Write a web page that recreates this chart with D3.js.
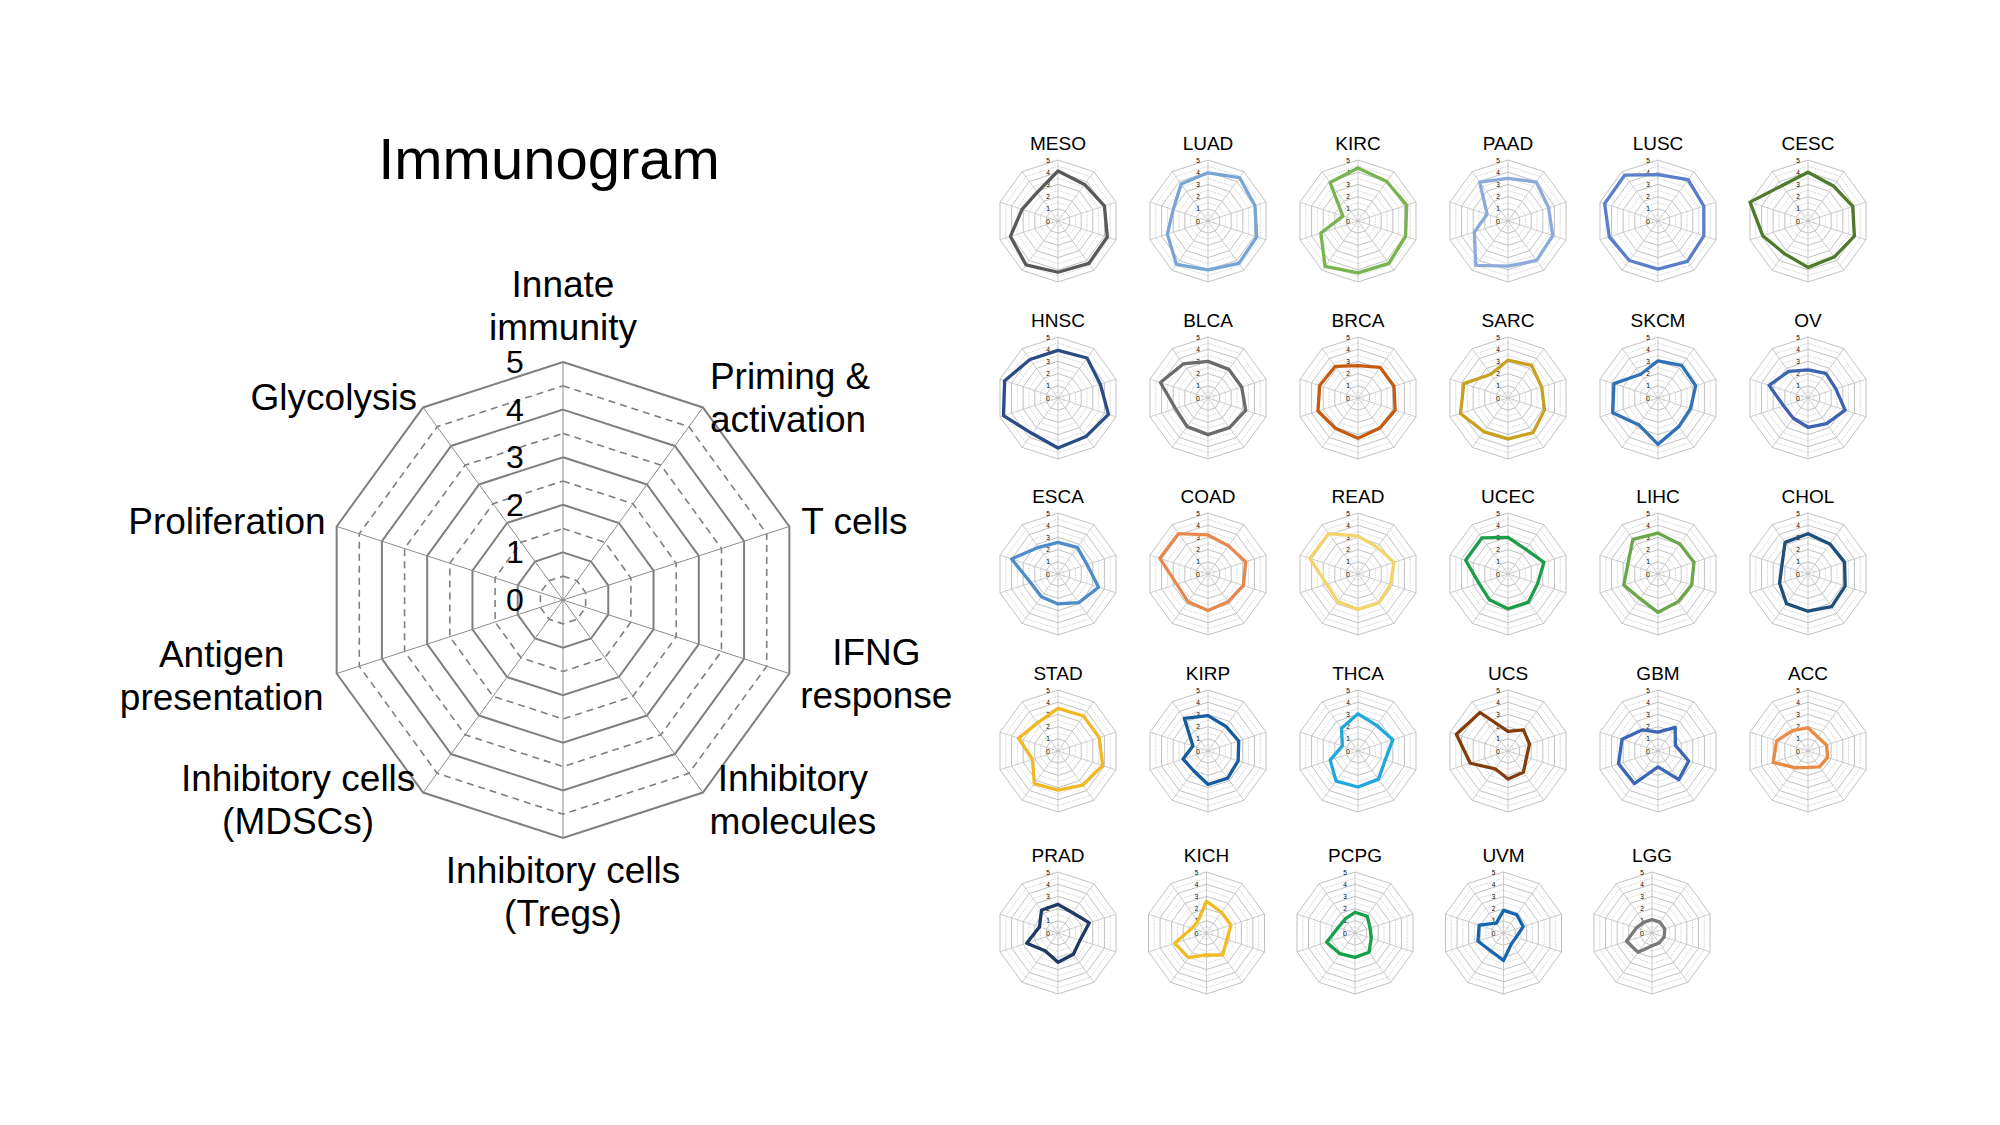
<!DOCTYPE html>
<html>
<head>
<meta charset="utf-8">
<script src="https://cdn.jsdelivr.net/npm/d3@7"></script>
<style>
  body { margin: 0; background: #ffffff; }
  text { font-family: "Liberation Sans", Arial, sans-serif; fill: #000; }
</style>
</head>
<body>
<script>
// axes of the immunogram, clockwise from the top
const axes = ["Innate immunity", "Priming & activation", "T cells", "IFNG response",
  "Inhibitory molecules", "Inhibitory cells (Tregs)", "Inhibitory cells (MDSCs)",
  "Antigen presentation", "Proliferation", "Glycolysis"];
const axisLines = [["Innate", "immunity"], ["Priming &", "activation"], ["T cells"],
  ["IFNG", "response"], ["Inhibitory", "molecules"], ["Inhibitory cells", "(Tregs)"],
  ["Inhibitory cells", "(MDSCs)"], ["Antigen", "presentation"], ["Proliferation"], ["Glycolysis"]];
const ticks = [0, 1, 2, 3, 4, 5];

const cancers = ["MESO", "LUAD", "KIRC", "PAAD", "LUSC", "CESC",
  "HNSC", "BLCA", "BRCA", "SARC", "SKCM", "OV",
  "ESCA", "COAD", "READ", "UCEC", "LIHC", "CHOL",
  "STAD", "KIRP", "THCA", "UCS", "GBM", "ACC",
  "PRAD", "KICH", "PCPG", "UVM", "LGG"];

const MESO = [4.1, 3.7, 4.0, 4.25, 4.3, 4.2, 4.45, 4.1, 3.1, 2.9];
const LUAD = [3.95, 4.4, 4.05, 4.2, 4.3, 4.0, 4.4, 3.5, 3.0, 3.75];
const KIRC = [4.35, 4.0, 4.2, 4.1, 4.3, 4.25, 4.6, 3.2, 1.3, 3.9];
const PAAD = [3.5, 3.95, 3.5, 3.85, 4.0, 3.7, 4.5, 2.9, 1.8, 3.95];
const LUSC = [3.8, 4.2, 3.95, 3.95, 4.1, 3.95, 4.0, 4.2, 4.6, 4.65];
const CESC = [4.0, 3.55, 3.85, 4.0, 3.65, 3.8, 3.3, 3.9, 5.0, 3.6];
const HNSC = [3.9, 4.05, 3.65, 4.35, 3.9, 4.1, 3.6, 4.7, 4.6, 3.9];
const BLCA = [3.0, 2.9, 2.9, 3.25, 3.0, 3.0, 2.9, 2.8, 4.1, 3.45];
const BRCA = [2.65, 3.1, 3.1, 3.2, 3.05, 3.3, 3.1, 3.45, 3.3, 3.2];
const SARC = [3.1, 3.3, 2.9, 3.15, 3.5, 3.35, 3.4, 4.1, 3.8, 2.4];
const SKCM = [3.05, 3.3, 3.25, 2.8, 2.9, 3.8, 2.7, 3.9, 3.8, 2.4];
const OV = [2.3, 2.5, 2.4, 3.2, 2.6, 2.4, 2.05, 2.1, 3.35, 2.7];
const ESCA = [2.6, 2.7, 2.5, 3.5, 2.9, 2.45, 2.3, 2.35, 4.0, 2.7];
const COAD = [3.2, 2.85, 3.25, 3.05, 2.8, 3.0, 2.8, 2.7, 4.15, 4.1];
const READ = [3.1, 2.7, 3.1, 2.8, 2.9, 2.9, 2.8, 2.7, 4.15, 4.1];
const UCEC = [3.0, 2.5, 3.1, 2.55, 2.85, 2.85, 2.6, 2.5, 3.65, 3.65];
const LIHC = [3.35, 3.05, 3.1, 2.9, 2.8, 3.15, 2.5, 2.95, 2.6, 3.5];
const CHOL = [3.3, 3.05, 3.15, 3.2, 3.3, 3.05, 3.0, 2.45, 2.25, 3.2];
const STAD = [3.5, 3.55, 3.55, 3.85, 3.45, 3.2, 3.3, 2.2, 3.4, 2.85];
const KIRP = [2.9, 2.5, 2.65, 2.6, 2.75, 2.75, 2.0, 2.15, 1.3, 3.3];
const THCA = [3.05, 2.6, 3.0, 2.35, 2.85, 2.95, 3.05, 2.4, 1.35, 2.3];
const UCS = [1.6, 2.15, 1.85, 1.6, 2.15, 2.3, 1.8, 3.25, 4.45, 3.9];
const GBM = [1.55, 2.4, 1.5, 2.65, 2.9, 1.3, 3.3, 3.4, 3.1, 2.15];
const ACC = [1.9, 1.4, 1.6, 1.7, 1.6, 1.35, 1.7, 3.0, 2.7, 2.1];
const PRAD = [2.35, 2.05, 2.7, 1.9, 2.15, 2.4, 1.8, 2.7, 1.6, 2.3];
const KICH = [2.6, 2.1, 2.1, 1.75, 2.25, 1.8, 2.5, 2.75, 1.25, 1.2];
const PCPG = [1.7, 1.7, 1.3, 1.4, 1.95, 2.0, 2.1, 2.45, 1.45, 1.4];
const UVM = [1.85, 1.85, 1.7, 1.1, 1.1, 2.25, 1.8, 2.2, 2.1, 1.0];
const LGG = [1.1, 1.1, 1.1, 1.05, 1.0, 1.05, 1.95, 2.2, 1.35, 1.1];

const values = [MESO, LUAD, KIRC, PAAD, LUSC, CESC, HNSC, BLCA, BRCA, SARC, SKCM, OV,
  ESCA, COAD, READ, UCEC, LIHC, CHOL, STAD, KIRP, THCA, UCS, GBM, ACC,
  PRAD, KICH, PCPG, UVM, LGG];

const colors = ["#595959", "#77a5d6", "#78b450", "#8eaadb", "#5a7ec8", "#4f7a2c",
  "#2c4a85", "#6b6b6b", "#c55a11", "#c9a020", "#2f72b5", "#3d62b0",
  "#4d8cc9", "#e7894f", "#f4d46a", "#1d9d4a", "#68a84a", "#1f4e79",
  "#f0b825", "#145c9e", "#1ea8dc", "#843c0c", "#3a66b4", "#e88b44",
  "#1f3864", "#f0bc22", "#16a04c", "#1566ae", "#7a7a7a"];

const W = 2000, H = 1125;
const svg = d3.select("body").append("svg")
  .attr("width", W)
  .attr("height", H)
  .style("background-color", "#ffffff");

const angle = d3.scaleLinear().domain([0, axes.length]).range([0, 2 * Math.PI]);
const halfSteps = d3.range(0.5, 5.01, 0.5);

// ---------- big immunogram ----------
const main = svg.append("g").attr("transform", "translate(563,600)");
const rMain = d3.scaleLinear().domain([0, 5]).range([0, 238]);

const ring = (r) => d3.lineRadial()
  .angle((d, i) => angle(i))
  .radius(() => r)
  .curve(d3.curveLinearClosed)(axes);

main.selectAll("path.ring")
  .data(halfSteps)
  .join("path")
  .attr("d", d => ring(rMain(d)))
  .attr("fill", "none")
  .attr("stroke", "#7f7f7f")
  .attr("stroke-width", d => Number.isInteger(d) ? 2 : 1.6)
  .attr("stroke-dasharray", d => Number.isInteger(d) ? null : "7,5");

main.selectAll("line.spoke")
  .data(axes)
  .join("line")
  .attr("x1", 0).attr("y1", 0)
  .attr("x2", (d, i) => rMain(5) * Math.sin(angle(i)))
  .attr("y2", (d, i) => -rMain(5) * Math.cos(angle(i)))
  .attr("stroke", "#8c8c8c")
  .attr("stroke-width", 1);

main.selectAll("text.tick")
  .data(ticks)
  .join("text")
  .attr("x", -48)
  .attr("y", d => -rMain(d))
  .attr("text-anchor", "middle")
  .attr("dominant-baseline", "central")
  .style("font-size", "32px")
  .text(d => d);

// label placement relative to each axis end
const labelLayout = [
  { a: "middle", dx: 0, dy: -78 }, { a: "start", dx: 7, dy: -31 },
  { a: "start", dx: 12, dy: -5 }, { a: "middle", dx: 87, dy: -21 },
  { a: "middle", dx: 90, dy: -14 }, { a: "middle", dx: 0, dy: 32 },
  { a: "middle", dx: -125, dy: -14 }, { a: "middle", dx: -115, dy: -19 },
  { a: "end", dx: -11, dy: -5 }, { a: "end", dx: -6, dy: -10 }];

axes.forEach((name, i) => {
  const L = labelLayout[i];
  const x = rMain(5) * Math.sin(angle(i)) + L.dx;
  const y = -rMain(5) * Math.cos(angle(i)) + L.dy;
  const t = main.append("text")
    .attr("text-anchor", L.a)
    .style("font-size", "37px");
  axisLines[i].forEach((line, k) => {
    t.append("tspan")
      .attr("x", x)
      .attr("y", y + k * 43)
      .attr("dominant-baseline", "central")
      .text(line);
  });
});

svg.append("text")
  .attr("x", 549)
  .attr("y", 158)
  .attr("text-anchor", "middle")
  .attr("dominant-baseline", "central")
  .style("font-size", "58px")
  .text("Immunogram");

// ---------- small multiples ----------
const rSmall = d3.scaleLinear().domain([0, 5]).range([0, 61]);
const rowY = [221, 398, 574, 751, 933];
const colX = (row, col) => 1058 + col * (row === 4 ? 148.5 : 150);

const valueLine = d3.lineRadial()
  .angle((d, i) => angle(i))
  .radius(d => rSmall(d))
  .curve(d3.curveLinearClosed);

cancers.forEach((name, n) => {
  const row = Math.floor(n / 6), col = n % 6;
  const g = svg.append("g")
    .attr("transform", `translate(${colX(row, col)},${rowY[row]})`);

  g.selectAll("path.ring")
    .data(halfSteps)
    .join("path")
    .attr("d", d => ring(rSmall(d)))
    .attr("fill", "none")
    .attr("stroke", d => Number.isInteger(d) ? "#bababa" : "#c6c6c6")
    .attr("stroke-width", 0.9)
    .attr("stroke-dasharray", d => Number.isInteger(d) ? null : "1.2,1.2");

  g.selectAll("line.spoke")
    .data(axes)
    .join("line")
    .attr("x1", 0).attr("y1", 0)
    .attr("x2", (d, i) => rSmall(5) * Math.sin(angle(i)))
    .attr("y2", (d, i) => -rSmall(5) * Math.cos(angle(i)))
    .attr("stroke", "#c0c0c0")
    .attr("stroke-width", 0.8);

  g.selectAll("text.tick")
    .data(ticks)
    .join("text")
    .attr("x", -10)
    .attr("y", d => -rSmall(d))
    .attr("text-anchor", "middle")
    .attr("dominant-baseline", "central")
    .style("font-size", "6.5px")
    .text(d => d);

  g.append("path")
    .attr("d", valueLine(values[n]))
    .attr("fill", "none")
    .attr("stroke", colors[n])
    .attr("stroke-width", 3.3)
    .attr("stroke-linejoin", "round");

  g.append("text")
    .attr("x", 0)
    .attr("y", -78)
    .attr("text-anchor", "middle")
    .attr("dominant-baseline", "central")
    .style("font-size", "19px")
    .text(name);
});
</script>
</body>
</html>
